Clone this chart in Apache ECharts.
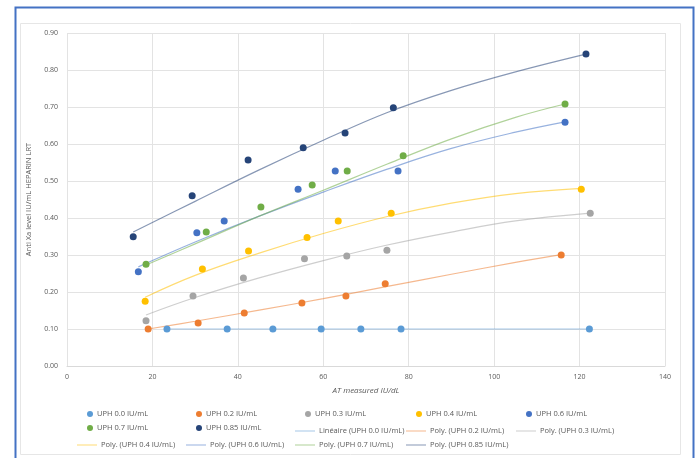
<!DOCTYPE html>
<html>
<head>
<meta charset="utf-8">
<script src="https://cdn.jsdelivr.net/npm/echarts@6/dist/echarts.min.js"></script>
<style>
  html, body { margin: 0; padding: 0; background: #ffffff; }
  #chart { width: 700px; height: 458px; }
</style>
</head>
<body>
<div id="chart"></div>
<script>
// Measured points: [AT measured IU/dL, anti-Xa level IU/mL]
const uph00  = [[23.4,0.100],[37.5,0.100],[48.2,0.100],[59.5,0.100],[68.8,0.100],[78.2,0.100],[122.3,0.100]];
const uph02  = [[19.0,0.100],[30.7,0.116],[41.5,0.143],[55.0,0.170],[65.3,0.189],[74.5,0.222],[115.7,0.300]];
const uph03  = [[18.5,0.122],[29.5,0.189],[41.3,0.238],[55.6,0.290],[65.5,0.297],[74.9,0.313],[122.5,0.413]];
const uph04  = [[18.3,0.175],[31.7,0.262],[42.5,0.311],[56.2,0.347],[63.5,0.392],[75.9,0.413],[120.4,0.478]];
const uph06  = [[16.7,0.255],[30.4,0.360],[36.8,0.392],[54.1,0.478],[62.8,0.527],[77.5,0.527],[116.6,0.659]];
const uph07  = [[18.5,0.275],[32.6,0.362],[45.4,0.430],[57.4,0.489],[65.6,0.527],[78.7,0.568],[116.6,0.708]];
const uph085 = [[15.5,0.349],[29.3,0.460],[42.4,0.557],[55.3,0.590],[65.1,0.630],[76.4,0.698],[121.5,0.843]];

// Trend curves (linear for 0.0, 2nd-order polynomial for the others)
const trend00  = [[23.4,0.100],[122.3,0.100]];
const trend02  = [[19.0,0.100],[30,0.121],[45,0.151],[60,0.182],[75,0.215],[90,0.248],[105,0.280],[115.7,0.301]];
const trend03  = [[18.5,0.138],[30,0.185],[45,0.238],[60,0.285],[75,0.327],[90,0.362],[105,0.392],[122.5,0.413]];
const trend04  = [[18.3,0.186],[30,0.245],[45,0.305],[60,0.358],[75,0.404],[90,0.440],[105,0.466],[120.4,0.480]];
const trend06  = [[16.7,0.268],[30,0.335],[45,0.405],[60,0.470],[75,0.532],[90,0.588],[105,0.632],[116.6,0.660]];
const trend07  = [[18.5,0.273],[30,0.330],[45,0.405],[60,0.475],[75,0.546],[90,0.614],[105,0.672],[116.6,0.708]];
const trend085 = [[15.5,0.362],[30,0.445],[45,0.530],[60,0.610],[75,0.685],[90,0.745],[105,0.795],[121.5,0.843]];

const pointNames = ['UPH 0.0 IU/mL','UPH 0.2 IU/mL','UPH 0.3 IU/mL','UPH 0.4 IU/mL','UPH 0.6 IU/mL','UPH 0.7 IU/mL','UPH 0.85 IU/mL'];
const trendNames = ['Linéaire (UPH 0.0 IU/mL)','Poly. (UPH 0.2 IU/mL)','Poly. (UPH 0.3 IU/mL)','Poly. (UPH 0.4 IU/mL)','Poly. (UPH 0.6 IU/mL)','Poly. (UPH 0.7 IU/mL)','Poly. (UPH 0.85 IU/mL)'];
const xTicks = { min: 0, max: 140, interval: 20 };
const yTicks = { min: 0, max: 0.9, interval: 0.1 };

const colors = ['#5B9BD5','#ED7D31','#A5A5A5','#FFC000','#4472C4','#70AD47','#264478'];
const pointSets = [uph00, uph02, uph03, uph04, uph06, uph07, uph085];
const trendSets = [trend00, trend02, trend03, trend04, trend06, trend07, trend085];

const FONT = 'Open Sans';
const series = [];
pointSets.forEach((d, i) => {
  series.push({
    name: pointNames[i], type: 'scatter', data: d, symbolSize: 7,
    itemStyle: { color: colors[i], opacity: 1 }, z: 3
  });
});
trendSets.forEach((d, i) => {
  series.push({
    name: trendNames[i], type: 'line', data: d,
    smooth: i > 0 ? 0.4 : false,
    symbol: 'none', showSymbol: false,
    lineStyle: { color: colors[i], width: 1.2, opacity: 0.55 },
    itemStyle: { color: colors[i], opacity: 0.55 }, z: 2
  });
});

// Legend laid out as a 5-column grid
const legendOrder = pointNames.concat(trendNames);
const colX = [87, 196, 305, 416, 526];
const rowY = [410, 424, 438];
const legends = legendOrder.map((name, k) => {
  const isLine = k >= pointNames.length;
  const col = k % 5, row = Math.floor(k / 5);
  return {
    data: [name],
    left: isLine ? colX[col] - 10 : colX[col],
    top: isLine ? rowY[row] + 3 : rowY[row],
    itemWidth: isLine ? 20 : 6,
    itemHeight: isLine ? 1 : 6,
    itemGap: 0,
    padding: 0,
    icon: isLine ? 'rect' : 'circle',
    textStyle: { fontFamily: FONT, fontSize: 7.5, color: '#595959', padding: [0, 0, 0, -1] },
    selectedMode: false
  };
});

const chart = echarts.init(document.getElementById('chart'), null, { renderer: 'canvas' });
chart.setOption({
  backgroundColor: '#ffffff',
  animation: false,
  grid: { left: 67, right: 35, top: 33, bottom: 92 },
  xAxis: {
    type: 'value', min: xTicks.min, max: xTicks.max, interval: xTicks.interval,
    name: 'AT measured IU/dL', nameLocation: 'middle', nameGap: 21,
    nameTextStyle: { fontFamily: FONT, fontSize: 8, color: '#595959', fontStyle: 'italic' },
    axisLine: { show: true, lineStyle: { color: '#d9d9d9', width: 1 } },
    axisTick: { show: false },
    axisLabel: { fontFamily: FONT, fontSize: 7, color: '#595959', margin: 7 },
    splitLine: { show: true, lineStyle: { color: '#e3e3e3', width: 1 } }
  },
  yAxis: {
    type: 'value', min: yTicks.min, max: yTicks.max, interval: yTicks.interval,
    name: 'Anti Xa level IU/mL HEPARIN LRT', nameLocation: 'middle', nameGap: 22,
    nameTextStyle: { fontFamily: FONT, fontSize: 7.5, color: '#595959' },
    axisLine: { show: false },
    axisTick: { show: false },
    axisLabel: { fontFamily: FONT, fontSize: 7, color: '#595959', margin: 9,
      formatter: v => v.toFixed(2) },
    splitLine: { show: true, lineStyle: { color: '#e3e3e3', width: 1 } }
  },
  legend: legends,
  graphic: [
    { type: 'rect', shape: { x: 15.5, y: 7.5, width: 678, height: 460 },
      style: { fill: 'none', stroke: '#4472C4', lineWidth: 2 }, silent: true, z: 100 },
    { type: 'rect', shape: { x: 20.5, y: 23.5, width: 660, height: 431 },
      style: { fill: 'none', stroke: '#e6e6e6', lineWidth: 1 }, silent: true, z: 0 }
  ],
  series: series
});
</script>
</body>
</html>
